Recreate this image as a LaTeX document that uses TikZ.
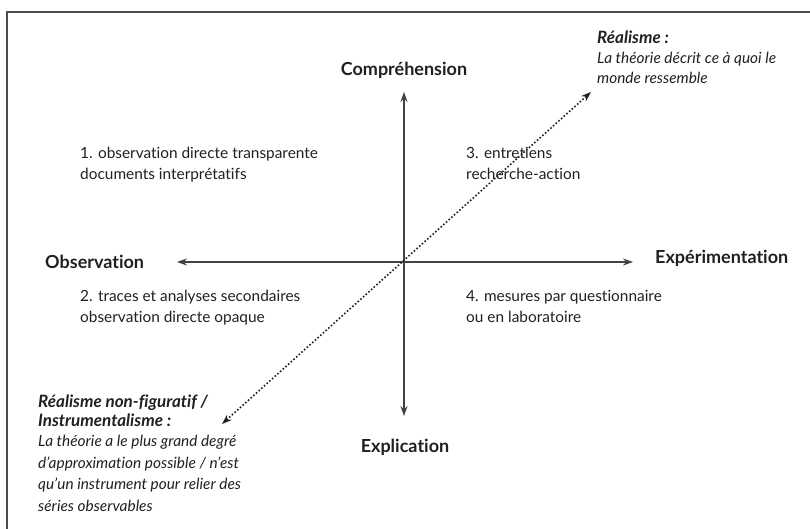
\documentclass[tikz,border=0pt]{standalone}
\usepackage{fontspec}
\setmainfont{Lato}[Ligatures=NoCommon]
\usetikzlibrary{arrows.meta}
\definecolor{ink}{HTML}{231F20}
\begin{document}
\begin{tikzpicture}[x=1pt,y=-1pt,
  lab/.style={font=\fontsize{18}{22}\selectfont\bfseries, text=ink, inner sep=0},
  quad/.style={font=\fontsize{15.4}{21}\selectfont, text=ink, inner sep=0, anchor=north west, align=left},
  notehead/.style={font=\fontsize{17}{19}\selectfont\bfseries\itshape, text=ink, inner sep=0, anchor=north west, align=left},
  notebody/.style={font=\fontsize{15.4}{21.5}\selectfont\itshape, text=ink, inner sep=0, anchor=north west, align=left},
  tip/.style={-{Stealth[length=10pt,width=7pt]}},
  axis/.style={draw=ink!85, line width=1.1, tip},
  dots/.style={draw=ink, line width=1.6, dotted, {Stealth[length=10pt,width=7pt]}-{Stealth[length=10pt,width=7pt]}}]
\useasboundingbox (0,0) rectangle (810,529);
\draw[gray!60!black, line width=1.5] (7,545) -- (7,12) -- (825,12);
\coordinate (O) at (404,262);
\coordinate (N) at (404,92);
\coordinate (S) at (404,416);
\coordinate (W) at (177,262);
\coordinate (E) at (633,262);
\coordinate (NE) at (591,92);
\coordinate (SW) at (222,424);
\draw[axis] (O) -- (N);
\draw[axis] (O) -- (S);
\draw[axis] (O) -- (W);
\draw[axis] (O) -- (E);
\draw[dots] (SW) -- (NE);
\node[lab] (comp) at (404,70) {Compréhension};
\node[lab] (expl) at (405,447) {Explication};
\node[lab, anchor=west] (obs) at (45,262) {Observation};
\node[lab, anchor=west] (exp) at (655,258) {Expérimentation};
\node[quad] (q1) at (80,147) {1. observation directe transparente\\documents interprétatifs};
\node[quad] (q3) at (466,147) {3. entretiens\\recherche-action};
\node[quad] (q2) at (80,290) {2. traces et analyses secondaires\\observation directe opaque};
\node[quad] (q4) at (466,290) {4. mesures par questionnaire\\ou en laboratoire};
\node[notehead] (rh) at (597,31) {Réalisme :};
\node[notehead] (ih) at (38,395) {Réalisme non-figuratif /\\Instrumentalisme :};
\node[notebody, font=\fontsize{15.4}{20}\selectfont\itshape] (rb) at (597,52) {La théorie décrit ce à quoi le\\monde ressemble};
\node[notebody] (ib) at (38,435) {La théorie a le plus grand degré\\d’approximation possible / n’est\\qu’un instrument pour relier des\\séries observables};
\end{tikzpicture}
\end{document}
